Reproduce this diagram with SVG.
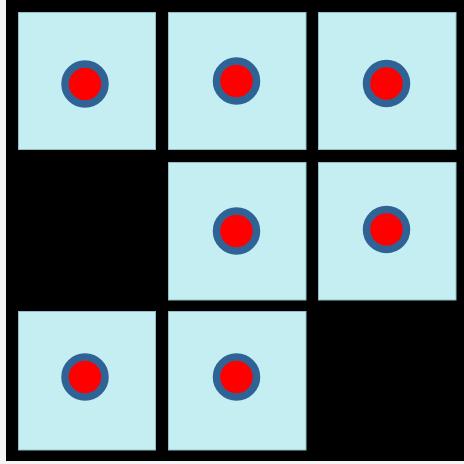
<svg xmlns="http://www.w3.org/2000/svg" width="464" height="464" viewBox="0 0 464 464">
<style>
.cell{fill:#C5EEF3;stroke:#8FBFC6;stroke-width:1}
.dot{fill:#FF0000;stroke:#2F6396;stroke-width:7.5}
</style>
<rect x="0" y="0" width="464" height="464" fill="#F4F4F4"/>
<rect x="6" y="0" width="458" height="461" fill="#000000"/>
<g id="c11"><rect class="cell" x="18.5" y="12.5" width="137" height="137"/><circle class="dot" cx="85" cy="84" r="20"/></g>
<g id="c12"><rect class="cell" x="168.5" y="12.5" width="137.5" height="137"/><circle class="dot" cx="236.5" cy="81" r="20"/></g>
<g id="c13"><rect class="cell" x="318.5" y="12.5" width="137.5" height="137"/><circle class="dot" cx="386.5" cy="83.5" r="20"/></g>
<g id="c22"><rect class="cell" x="168.5" y="162.5" width="137.5" height="137.5"/><circle class="dot" cx="236.5" cy="231" r="20"/></g>
<g id="c23"><rect class="cell" x="318.5" y="162.5" width="137.5" height="137.5"/><circle class="dot" cx="386.5" cy="229.5" r="20"/></g>
<g id="c31"><rect class="cell" x="18.5" y="311.5" width="137" height="138.5"/><circle class="dot" cx="85" cy="377" r="20"/></g>
<g id="c32"><rect class="cell" x="168.5" y="311.5" width="137.5" height="138.5"/><circle class="dot" cx="236.5" cy="377" r="20"/></g>
<g id="connectors"></g>
</svg>
